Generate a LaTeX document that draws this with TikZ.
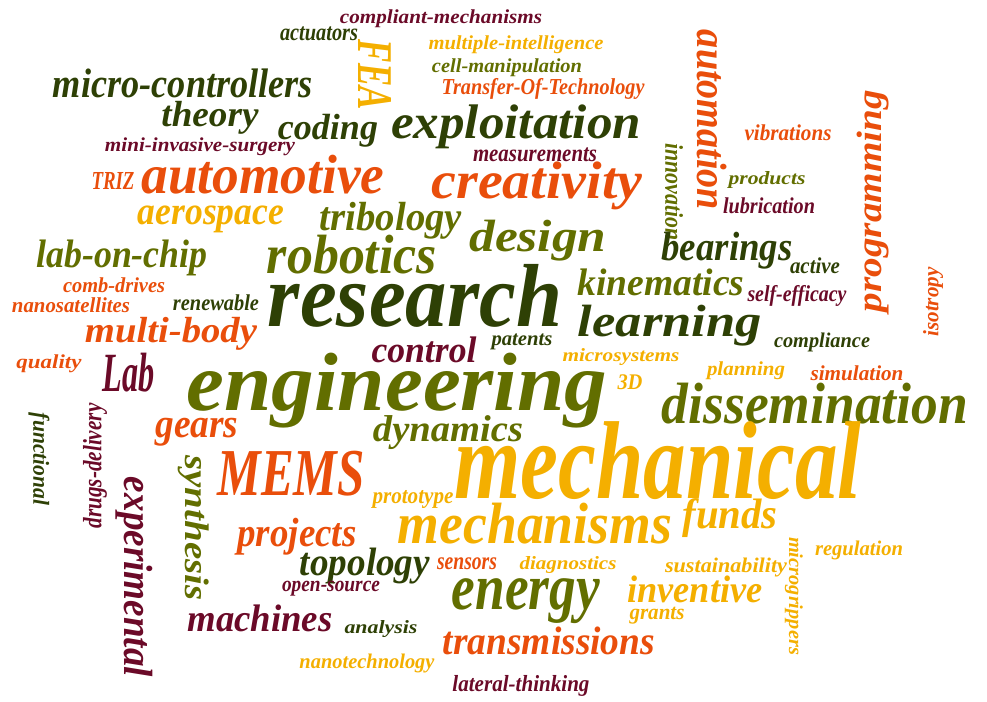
\documentclass[tikz,border=0pt]{standalone}
\usepackage{fontspec}
\setmainfont{Liberation Serif}
\usepackage{graphicx}
\usepackage{tikz}
\definecolor{vert}{HTML}{2E4005}
\definecolor{kaki}{HTML}{626E00}
\definecolor{bordeaux}{HTML}{6B0A28}
\definecolor{rouille}{HTML}{E94E0B}
\definecolor{jaune}{HTML}{F4AF00}
\newcommand{\motbox}[3]{\resizebox*{#1pt}{#2pt}{#3}}
\tikzset{mot/.style={
    inner sep=0,
    outer sep=0,
    font=\bfseries\itshape}}

\begin{document}
\begin{tikzpicture}[x=1pt, y=-1pt]
  \useasboundingbox (0,0) rectangle (987,701);

  % top
  \node[mot, text=bordeaux] (compliant) at (441,19) {\motbox{202}{18}{compliant-mechanisms}};
  \node[mot, text=vert] (actuators) at (319,34) {\motbox{78}{14}{actuators}};
  \node[mot, text=jaune, rotate=-90] (fea) at (375,75) {\motbox{70}{33}{FEA}};
  \node[mot, text=jaune] (multiple) at (516,45) {\motbox{175}{18}{multiple-intelligence}};
  \node[mot, text=kaki] (cell) at (507,68) {\motbox{150}{18}{cell-manipulation}};
  \node[mot, text=rouille] (transfer) at (543,89) {\motbox{203}{21}{Transfer-Of-Technology}};
  \node[mot, text=vert] (microcontrollers) at (183,83) {\motbox{260}{29}{micro-controllers}};
  \node[mot, text=vert] (theory) at (210,118) {\motbox{97}{33}{theory}};
  \node[mot, text=vert] (coding) at (328,131) {\motbox{100}{33}{coding}};
  \node[mot, text=vert] (exploitation) at (516,127) {\motbox{250}{44}{exploitation}};
  \node[mot, text=bordeaux] (surgery) at (200,147) {\motbox{190}{18}{mini-invasive-surgery}};
  \node[mot, text=bordeaux] (measurements) at (535,155) {\motbox{124}{14}{measurements}};
  \node[mot, text=rouille] (triz) at (113,181) {\motbox{43}{17}{TRIZ}};
  \node[mot, text=rouille] (automotive) at (263,175) {\motbox{243}{39}{automotive}};
  \node[mot, text=rouille] (creativity) at (537,186) {\motbox{211}{48}{creativity}};
  \node[mot, text=jaune] (aerospace) at (211,219) {\motbox{146}{27}{aerospace}};
  \node[mot, text=kaki] (tribology) at (391,221) {\motbox{142}{37}{tribology}};
  \node[mot, text=kaki] (design) at (538,241) {\motbox{137}{41}{design}};
  \node[mot, text=rouille, rotate=-90] (automation) at (712,120) {\motbox{180}{30}{automation}};
  \node[mot, text=kaki, rotate=-90] (innovation) at (674,192) {\motbox{97}{18}{innovation}};
  \node[mot, text=rouille] (vibrations) at (788,133) {\motbox{87}{16}{vibrations}};
  \node[mot, text=rouille, rotate=90] (programming) at (873,201) {\motbox{222}{32}{programming}};
  \node[mot, text=kaki] (products) at (767,180) {\motbox{77}{17}{products}};
  \node[mot, text=bordeaux] (lubrication) at (769,206) {\motbox{92}{16}{lubrication}};

  % middle
  \node[mot, text=rouille, rotate=90] (isotropy) at (933,302) {\motbox{69}{20}{isotropy}};
  \node[mot, text=vert] (bearings) at (727,251) {\motbox{131}{37}{bearings}};
  \node[mot, text=vert] (active) at (815,266) {\motbox{50}{16}{active}};
  \node[mot, text=kaki] (labonchip) at (122,258) {\motbox{171}{36}{lab-on-chip}};
  \node[mot, text=kaki] (robotics) at (352,255) {\motbox{170}{39}{robotics}};
  \node[mot, text=kaki] (kinematics) at (661,282) {\motbox{167}{27}{kinematics}};
  \node[mot, text=vert] (research) at (415,296) {\motbox{294}{63}{research}};
  \node[mot, text=rouille] (comb) at (114,285) {\motbox{102}{15}{comb-drives}};
  \node[mot, text=rouille] (nanosat) at (71,305) {\motbox{118}{15}{nanosatellites}};
  \node[mot, text=vert] (renewable) at (216,303) {\motbox{86}{16}{renewable}};
  \node[mot, text=bordeaux] (selfefficacy) at (797,296) {\motbox{99}{21}{self-efficacy}};
  \node[mot, text=vert] (learning) at (670,326) {\motbox{184}{41}{learning}};
  \node[mot, text=rouille] (multibody) at (171,334) {\motbox{172}{33}{multi-body}};
  \node[mot, text=vert] (compliance) at (822,342) {\motbox{96}{19}{compliance}};
  \node[mot, text=bordeaux] (control) at (424,350) {\motbox{105}{26}{control}};
  \node[mot, text=vert] (patents) at (522,342) {\motbox{61}{16}{patents}};
  \node[mot, text=jaune] (microsystems) at (621,357) {\motbox{117}{17}{microsystems}};
  \node[mot, text=rouille] (quality) at (49,364) {\motbox{65}{18}{quality}};
  \node[mot, text=bordeaux] (lab) at (129,373) {\motbox{52}{39}{Lab}};
  \node[mot, text=kaki] (engineering) at (397,391) {\motbox{421}{75}{engineering}};
  \node[mot, text=jaune] (planning) at (746,371) {\motbox{78}{18}{planning}};
  \node[mot, text=rouille] (simulation) at (857,373) {\motbox{93}{15}{simulation}};
  \node[mot, text=jaune] (troisd) at (630,382) {\motbox{25}{15}{3D}};
  \node[mot, text=kaki] (dissemination) at (815,404) {\motbox{306}{41}{dissemination}};
  \node[mot, text=rouille] (gears) at (197,432) {\motbox{83}{28}{gears}};
  \node[mot, text=kaki] (dynamics) at (448,433) {\motbox{150}{34}{dynamics}};

  % bottom
  \node[mot, text=vert, rotate=-90] (functional) at (39,459) {\motbox{92}{21}{functional}};
  \node[mot, text=bordeaux, rotate=90] (drugs) at (95,466) {\motbox{125}{24}{drugs-delivery}};
  \node[mot, text=bordeaux, rotate=-90] (experimental) at (134,577) {\motbox{200}{37}{experimental}};
  \node[mot, text=kaki, rotate=-90] (synthesis) at (194,528) {\motbox{145}{31}{synthesis}};
  \node[mot, text=rouille] (mems) at (291,474) {\motbox{147}{45}{MEMS}};
  \node[mot, text=jaune] (mechanical) at (658,461) {\motbox{407}{78}{mechanical}};
  \node[mot, text=jaune] (prototype) at (413,499) {\motbox{81}{18}{prototype}};
  \node[mot, text=jaune] (mechanisms) at (535,524) {\motbox{274}{41}{mechanisms}};
  \node[mot, text=jaune] (funds) at (730,518) {\motbox{95}{39}{funds}};
  \node[mot, text=rouille] (projects) at (297,537) {\motbox{119}{37}{projects}};
  \node[mot, text=vert] (topology) at (365,566) {\motbox{130}{36}{topology}};
  \node[mot, text=rouille] (sensors) at (467,564) {\motbox{60}{12}{sensors}};
  \node[mot, text=jaune] (diagnostics) at (568,565) {\motbox{97}{17}{diagnostics}};
  \node[mot, text=jaune] (sustainability) at (726,567) {\motbox{122}{19}{sustainability}};
  \node[mot, text=jaune, rotate=-90] (microgrippers) at (794,596) {\motbox{118}{18}{microgrippers}};
  \node[mot, text=jaune] (regulation) at (859,550) {\motbox{88}{19}{regulation}};
  \node[mot, text=kaki] (energy) at (526,601) {\motbox{148}{45}{energy}};
  \node[mot, text=jaune] (inventive) at (695,589) {\motbox{135}{27}{inventive}};
  \node[mot, text=bordeaux] (opensource) at (331,589) {\motbox{98}{15}{open-source}};
  \node[mot, text=jaune] (grants) at (657,616) {\motbox{55}{17}{grants}};
  \node[mot, text=bordeaux] (machines) at (260,618) {\motbox{145}{27}{machines}};
  \node[mot, text=vert] (analysis) at (381,629) {\motbox{73}{17}{analysis}};
  \node[mot, text=rouille] (transmissions) at (549,641) {\motbox{212}{28}{transmissions}};
  \node[mot, text=jaune] (nanotech) at (367,663) {\motbox{135}{19}{nanotechnology}};
  \node[mot, text=bordeaux] (lateral) at (521,686) {\motbox{137}{21}{lateral-thinking}};
\end{tikzpicture}
\end{document}
